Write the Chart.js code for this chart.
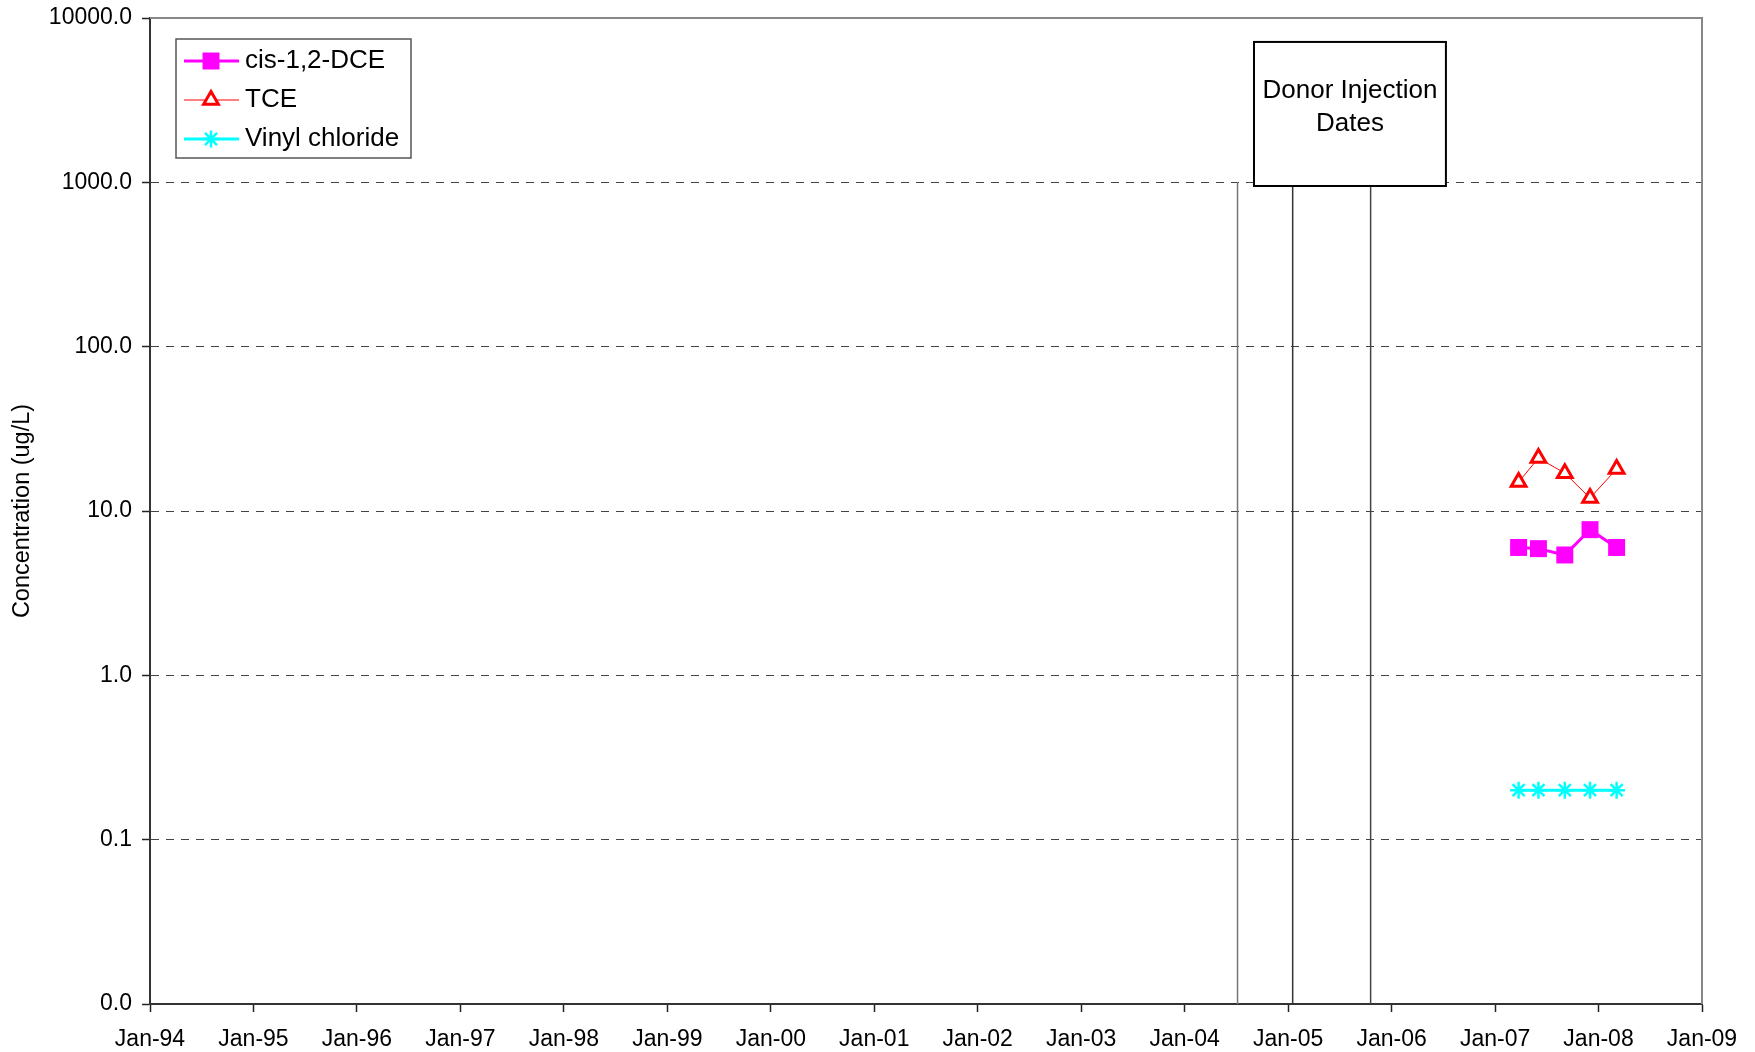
<!DOCTYPE html>
<html>
<head>
<meta charset="utf-8">
<script src="https://cdn.jsdelivr.net/npm/chart.js@4.4.1/dist/chart.umd.min.js"></script>
<style>
  html, body { margin: 0; padding: 0; background: #fff; }
  #wrap { width: 1755px; height: 1052px; }
</style>
</head>
<body>
<div id="wrap"><canvas id="conc"></canvas></div>
<script>
// sample dates and concentrations (ug/L)
var sampleDates = ['2007-03-25', '2007-06-03', '2007-09-04', '2007-12-02', '2008-03-05'];
var dceValues = [6.0, 5.9, 5.4, 7.7, 6.0];
var tceValues = [15, 21, 17, 12, 18];
var vcValues = [0.2, 0.2, 0.2, 0.2, 0.2];

// donor injection dates (vertical lines from 0.01 up to 1000)
var injectionDates = ['2004-07-06', '2005-01-17', '2005-10-19'];
var injectionRange = [0.01, 1000];

var xTickYears = [1994, 1995, 1996, 1997, 1998, 1999, 2000, 2001, 2002, 2003, 2004, 2005, 2006, 2007, 2008, 2009];
var yTickValues = [0.01, 0.1, 1, 10, 100, 1000, 10000];

var FONT = "'Liberation Sans', Arial, sans-serif";

function toYear(s) {
    var d = new Date(s + 'T00:00:00Z');
    var y = d.getUTCFullYear();
    var start = Date.UTC(y, 0, 1), end = Date.UTC(y + 1, 0, 1);
    return y + (d.getTime() - start) / (end - start);
}

function pts(vals) {
    return sampleDates.map(function (d, i) { return { x: toYear(d), y: vals[i] }; });
}

var datasets = [{
    label: 'cis-1,2-DCE',
    data: pts(dceValues),
    showLine: true,
    borderColor: '#ff00ff',
    borderWidth: 3,
    pointStyle: 'rect',
    pointRadius: 12,
    pointHoverRadius: 12,
    pointBackgroundColor: '#ff00ff',
    pointBorderColor: '#ff00ff',
    pointBorderWidth: 0,
    inLegend: true
}, {
    label: 'TCE',
    data: pts(tceValues),
    showLine: true,
    borderColor: '#ff0000',
    borderWidth: 1,
    pointStyle: 'triangle',
    pointRadius: 8.5,
    pointHoverRadius: 8.5,
    pointBackgroundColor: '#ffffff',
    pointBorderColor: '#ff0000',
    pointBorderWidth: 3,
    inLegend: true
}, {
    label: 'Vinyl chloride',
    data: pts(vcValues),
    showLine: true,
    borderColor: '#00ffff',
    borderWidth: 3,
    pointStyle: 'star',
    pointRadius: 8.5,
    pointHoverRadius: 8.5,
    pointBackgroundColor: '#00ffff',
    pointBorderColor: '#00ffff',
    pointBorderWidth: 2.5,
    inLegend: true
}];

var injColors = ['#777777', '#333333', '#444444'];
injectionDates.forEach(function (d, i) {
    var x = toYear(d);
    datasets.push({
        label: 'injection ' + d,
        data: [{ x: x, y: injectionRange[0] }, { x: x, y: injectionRange[1] }],
        showLine: true,
        borderColor: injColors[i],
        borderWidth: 1.5,
        pointRadius: 0,
        pointHoverRadius: 0,
        inLegend: false
    });
});

// gray top/right frame of the plot
var framePlugin = {
    id: 'frame',
    beforeDatasetsDraw: function (chart) {
        var a = chart.chartArea, ctx = chart.ctx;
        ctx.save();
        ctx.strokeStyle = '#888888';
        ctx.lineWidth = 2;
        ctx.beginPath();
        ctx.moveTo(a.left, a.top);
        ctx.lineTo(a.right, a.top);
        ctx.lineTo(a.right, a.bottom);
        ctx.stroke();
        ctx.restore();
    }
};

// boxed legend and the "Donor Injection Dates" label
var notesPlugin = {
    id: 'notes',
    afterDraw: function (chart) {
        var ctx = chart.ctx, a = chart.chartArea;
        var xs = chart.scales.x, ys = chart.scales.y;
        ctx.save();

        // legend
        var lx = a.left + 26, ly = a.top + 21, lw = 235, lh = 119;
        ctx.fillStyle = '#fff';
        ctx.fillRect(lx, ly, lw, lh);
        ctx.strokeStyle = '#555';
        ctx.lineWidth = 1.5;
        ctx.strokeRect(lx, ly, lw, lh);
        ctx.font = '26px ' + FONT;
        ctx.textBaseline = 'middle';
        ctx.textAlign = 'left';
        var items = chart.data.datasets.filter(function (d) { return d.inLegend; });
        items.forEach(function (d, i) {
            var cy = ly + 22 + i * 39;
            ctx.strokeStyle = d.borderColor;
            ctx.lineWidth = d.borderWidth;
            ctx.beginPath();
            ctx.moveTo(lx + 8, cy);
            ctx.lineTo(lx + 63, cy);
            ctx.stroke();
            ctx.fillStyle = d.pointBackgroundColor;
            ctx.strokeStyle = d.pointBorderColor;
            ctx.lineWidth = d.pointBorderWidth;
            Chart.helpers.drawPoint(ctx, {
                pointStyle: d.pointStyle, radius: d.pointRadius,
                borderWidth: d.pointBorderWidth, rotation: 0
            }, lx + 35, cy);
            ctx.fillStyle = '#000';
            ctx.fillText(d.label, lx + 69, cy);
        });

        // donor injection box
        var o = chart.options.plugins.notes;
        var bx0 = xs.getPixelForValue(o.boxX[0]), bx1 = xs.getPixelForValue(o.boxX[1]);
        var by0 = ys.getPixelForValue(o.boxY[0]), by1 = ys.getPixelForValue(o.boxY[1]);
        ctx.fillStyle = '#fff';
        ctx.fillRect(bx0, by0, bx1 - bx0, by1 - by0);
        ctx.strokeStyle = '#000';
        ctx.lineWidth = 2;
        ctx.strokeRect(bx0, by0, bx1 - bx0, by1 - by0);
        ctx.fillStyle = '#000';
        ctx.textAlign = 'center';
        var cx = (bx0 + bx1) / 2;
        o.boxText.forEach(function (t, i) {
            ctx.fillText(t, cx, by0 + 49 + i * 32.5);
        });
        ctx.restore();
    }
};

var ctx = document.getElementById('conc');
var myChart = new Chart(ctx, {
    type: 'scatter',
    data: { datasets: datasets },
    plugins: [framePlugin, notesPlugin],
    options: {
        responsive: true,
        maintainAspectRatio: false,
        animation: false,
        events: [],
        layout: { padding: { top: 18, right: 53, bottom: 0, left: 0 } },
        plugins: {
            legend: { display: false },
            tooltip: { enabled: false },
            notes: {
                boxX: [2004.67, 2006.525],
                boxY: [7150, 950],
                boxText: ['Donor Injection', 'Dates']
            }
        },
        scales: {
            x: {
                type: 'linear',
                min: 1994,
                max: 2009,
                afterBuildTicks: function (scale) {
                    scale.ticks = xTickYears.map(function (v) { return { value: v }; });
                },
                afterFit: function (scale) { scale.height = 48; },
                ticks: {
                    autoSkip: false,
                    maxRotation: 0,
                    padding: 14,
                    color: '#000',
                    font: { family: FONT, size: 23 },
                    callback: function (v) { return 'Jan-' + String(v).slice(-2); }
                },
                grid: {
                    drawOnChartArea: false,
                    drawTicks: true,
                    tickLength: 8,
                    tickColor: '#222',
                    tickWidth: 1.5
                },
                border: { color: '#333', width: 2 }
            },
            y: {
                type: 'logarithmic',
                min: 0.01,
                max: 10000,
                afterBuildTicks: function (scale) {
                    scale.ticks = yTickValues.map(function (v) { return { value: v }; });
                },
                afterFit: function (scale) {
                    scale.width = 150;
                    scale.paddingTop = 0;
                    scale.paddingBottom = 0;
                },
                ticks: {
                    padding: 10,
                    color: '#000',
                    font: { family: FONT, size: 23 },
                    callback: function (v) { return Number(v).toFixed(1); }
                },
                grid: {
                    color: function (c) {
                        var v = c.tick ? c.tick.value : 0;
                        return (v <= 0.01 || v >= 10000) ? 'rgba(0,0,0,0)' : '#444';
                    },
                    lineWidth: 1,
                    tickLength: 8,
                    tickColor: '#222',
                    tickWidth: 1.5,
                    tickBorderDash: []
                },
                border: { color: '#333', width: 2, dash: [8, 7] },
                title: {
                    display: true,
                    text: 'Concentration (ug/L)',
                    color: '#000',
                    font: { family: FONT, size: 23.5 },
                    padding: { top: 8, bottom: 0 }
                }
            }
        }
    }
});
</script>
</body>
</html>
